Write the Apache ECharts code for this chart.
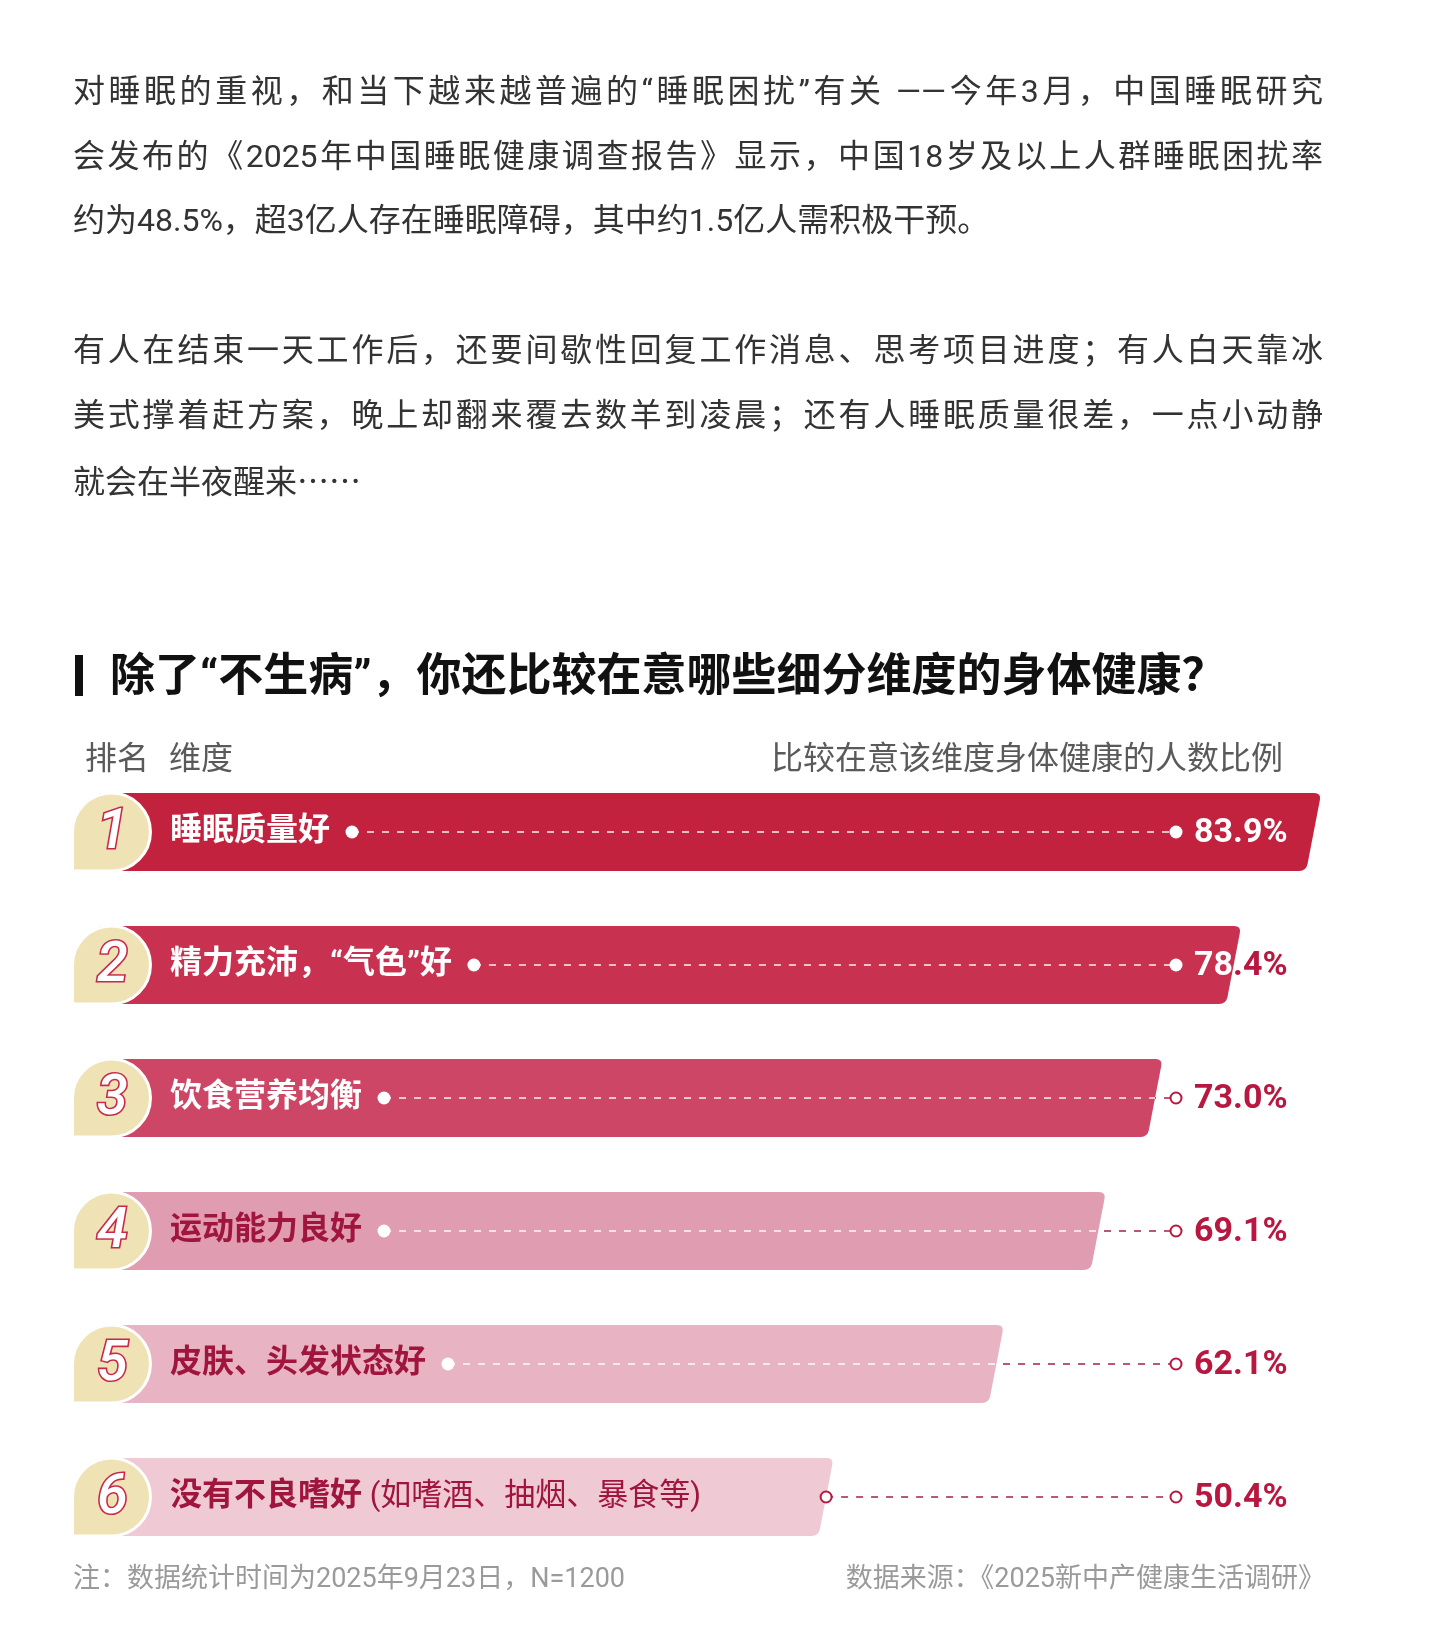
<!DOCTYPE html>
<html><head><meta charset="utf-8">
<script src="https://cdn.jsdelivr.net/npm/echarts@6/dist/echarts.min.js"></script>
<style>
html,body{margin:0;padding:0;background:#fff;}
#wrap{position:relative;width:1434px;height:1634px;}
#c{position:absolute;left:0;top:0;width:1434px;height:1634px;}
.para{position:absolute;left:73px;width:1250px;font-family:Roboto,"Noto Sans CJK SC",sans-serif;font-size:32px;line-height:64.5px;color:#333;z-index:2;}
.para div{white-space:nowrap;}
.para .j{text-align:justify;text-align-last:justify;white-space:normal;}
.para .cjk{font-family:"Noto Sans CJK SC",sans-serif;}
</style>
</head><body><div id="wrap"><div id="c"></div></div>
<script>
// ---------- data ----------
const ranks = ['1', '2', '3', '4', '5', '6'];
const dimensions = ['睡眠质量好', '精力充沛，“气色”好', '饮食营养均衡', '运动能力良好', '皮肤、头发状态好', '没有不良嗜好'];
const dimensionNotes = ['', '', '', '', '', ' (如嗜酒、抽烟、暴食等)'];
const shares = [83.9, 78.4, 73.0, 69.1, 62.1, 50.4];
const shareLabels = ['83.9%', '78.4%', '73.0%', '69.1%', '62.1%', '50.4%'];

const introParagraphs = [
  ['对睡眠的重视，和当下越来越普遍的“睡眠困扰”有关 ——今年3月，中国睡眠研究',
   '会发布的《2025年中国睡眠健康调查报告》显示，中国18岁及以上人群睡眠困扰率',
   '约为48.5%，超3亿人存在睡眠障碍，其中约1.5亿人需积极干预。'],
  ['有人在结束一天工作后，还要间歇性回复工作消息、思考项目进度；有人白天靠冰',
   '美式撑着赶方案，晚上却翻来覆去数羊到凌晨；还有人睡眠质量很差，一点小动静',
   '就会在半夜醒来……']
];
const titleText = '除了“不生病”，你还比较在意哪些细分维度的身体健康？';
const headRank = '排名';
const headDim = '维度';
const headValue = '比较在意该维度身体健康的人数比例';
const noteText = '注：数据统计时间为2025年9月23日，N=1200';
const sourceText = '数据来源：《2025新中产健康生活调研》';

// ---------- styles ----------
const CJK = 'Roboto, "Noto Sans CJK SC", sans-serif';
const barColors = ['#c3223f', '#c8314f', '#cd4665', '#e09cb0', '#e8b4c3', '#efc9d4'];
const labelColors = ['#ffffff', '#ffffff', '#ffffff', '#a0153e', '#a0153e', '#a0153e'];
const VALUE_RED = '#b8173f';
const BADGE = '#efe2b4';
const L = { valueDotX: 1176, valueTextX: 1194, labelOffset: 70, badgeOffset: 11.5, slant: 15, corner: 7, gap: 22, dotR: 6.5 };

// intro paragraphs (justified text, real text in the page)
const paraTops = [59, 318];
introParagraphs.forEach((lines, p) => {
  const d = document.createElement('div');
  d.className = 'para';
  d.style.top = paraTops[p] + 'px';
  lines.forEach((t, k) => {
    const ln = document.createElement('div');
    if (k < lines.length - 1) ln.className = 'j';
    else if (!/[0-9“”]/.test(t)) ln.className = 'cjk';
    ln.textContent = t;
    d.appendChild(ln);
  });
  document.getElementById('wrap').appendChild(d);
});

const mctx = document.createElement('canvas').getContext('2d');
function measure(text, font) { mctx.font = font; return mctx.measureText(text).width; }
const LABEL_FONT_B = 'bold 32px ' + CJK;

function dot(x, y, inside) {
  return inside
    ? { type: 'circle', shape: { cx: x, cy: y, r: L.dotR }, style: { fill: '#fff' }, z2: 5 }
    : { type: 'circle', shape: { cx: x, cy: y, r: L.dotR - 1 }, style: { fill: '#fff', stroke: VALUE_RED, lineWidth: 2 }, z2: 5 };
}

function renderItem(params, api) {
  const i = params.dataIndex;
  const v = api.value(0);
  const base = api.coord([0, i]);
  const x0 = base[0], yc = base[1];
  const xv = api.coord([v, i])[0];
  const h = api.size([0, 1])[1] * 0.586;
  const top = yc - h / 2, bot = yc + h / 2;
  const xt = xv, xb = xv - L.slant;
  const len = Math.hypot(L.slant, h);
  const ux = -L.slant / len, uy = h / len, r = L.corner;
  const barPath = `M${x0} ${top}L${xt - r} ${top}Q${xt} ${top} ${xt + ux * r} ${top + uy * r}` +
    `L${xb - ux * r} ${bot - uy * r}Q${xb} ${bot} ${xb - r} ${bot}L${x0} ${bot}Z`;
  const barMid = (xt + xb) / 2;

  const children = [];
  children.push({ type: 'path', shape: { pathData: barPath }, style: { fill: barColors[i] }, z2: 1 });

  // badge
  const cx = x0 + L.badgeOffset, R = h / 2;
  const badgePath = `M${cx - R} ${yc + R}L${cx - R} ${yc}A${R} ${R} 0 0 1 ${cx} ${yc - R}` +
    `A${R} ${R} 0 0 1 ${cx + R} ${yc}A${R} ${R} 0 0 1 ${cx} ${yc + R}Z`;
  children.push({ type: 'path', shape: { pathData: badgePath }, style: { fill: BADGE, stroke: '#fff', lineWidth: 3 }, z2: 2 });
  children.push({ type: 'text', z2: 3, style: { x: cx + 1, y: yc + 2, text: ranks[i], align: 'center', verticalAlign: 'middle',
    font: 'italic 500 56px Roboto, sans-serif', fill: '#fff', stroke: '#c8284a', lineWidth: 3.2, strokeFirst: true } });

  // label
  const lx = x0 + L.labelOffset;
  const name = dimensions[i], note = dimensionNotes[i];
  children.push({ type: 'text', z2: 4, style: { x: lx, y: yc, text: '{b|' + name + '}' + (note ? '{n|' + note + '}' : ''),
    verticalAlign: 'middle', align: 'left',
    rich: { b: { fill: labelColors[i], fontWeight: 'bold', fontSize: 32, fontFamily: CJK },
            n: { fill: labelColors[i], fontWeight: 'normal', fontSize: 31, fontFamily: CJK } } } });

  // leader
  const nameW = measure(name, LABEL_FONT_B);
  const start = note ? barMid : lx + nameW + L.gap;
  const end = L.valueDotX;
  const dash = [7, 8];
  if (start < barMid) {
    const e = Math.min(end, barMid);
    children.push({ type: 'line', shape: { x1: start, y1: yc, x2: e, y2: yc },
      style: { stroke: 'rgba(255,255,255,0.7)', lineWidth: 2, lineDash: dash }, z2: 4 });
  }
  const os = Math.max(start, barMid);
  if (end > os) {
    children.push({ type: 'line', shape: { x1: os, y1: yc, x2: end, y2: yc },
      style: { stroke: 'rgba(165,45,90,0.8)', lineWidth: 2, lineDash: dash, lineDashOffset: (os - start) % 15 }, z2: 4 });
  }
  children.push(dot(start, yc, start < barMid - 1));
  children.push(dot(end, yc, end < barMid - 1));

  // value label: red everywhere, white where it overlaps the bar
  const vfont = 'bold 34px Roboto, sans-serif';
  children.push({ type: 'text', z2: 6, style: { x: L.valueTextX, y: yc + 1, text: shareLabels[i], font: vfont, fill: VALUE_RED, verticalAlign: 'middle' } });
  children.push({ type: 'text', z2: 7, style: { x: L.valueTextX, y: yc + 1, text: shareLabels[i], font: vfont, fill: '#fff', verticalAlign: 'middle' },
    clipPath: { type: 'path', shape: { pathData: barPath } } });

  return { type: 'group', children };
}

const graphic = [];
graphic.push({ type: 'rect', shape: { x: 75, y: 655, width: 8, height: 41 }, style: { fill: '#111' } });
graphic.push({ type: 'text', left: 110, top: 657, style: { text: titleText, font: 'bold 45px ' + CJK, fill: '#111' } });
graphic.push({ type: 'text', left: 85, top: 745, style: { text: headRank, font: 'normal 32px ' + CJK, fill: '#5a5a5a' } });
graphic.push({ type: 'text', left: 169, top: 745, style: { text: headDim, font: 'normal 32px ' + CJK, fill: '#5a5a5a' } });
graphic.push({ type: 'text', right: 1434 - 1283, top: 745, style: { text: headValue, font: 'normal 32px ' + CJK, fill: '#5a5a5a' } });
graphic.push({ type: 'text', left: 73, top: 1567, style: { text: noteText, font: 'normal 27px ' + CJK, fill: '#9a9a9a' } });
graphic.push({ type: 'text', right: 1434 - 1325, top: 1567, style: { text: sourceText, font: 'normal 27px ' + CJK, fill: '#9a9a9a' } });

const chart = echarts.init(document.getElementById('c'), null, { renderer: 'canvas' });
chart.setOption({
  backgroundColor: '#fff',
  animation: false,
  grid: { left: 100, top: 765.5, width: 1310, height: 798 },
  xAxis: { type: 'value', min: 0, max: 90, show: false },
  yAxis: { type: 'category', data: dimensions, inverse: true, show: false },
  graphic,
  series: [{
    type: 'custom',
    renderItem,
    clip: false,
    encode: { x: 0, y: 1 },
    data: shares.map((v, i) => [v, i])
  }]
});
</script></body></html>
